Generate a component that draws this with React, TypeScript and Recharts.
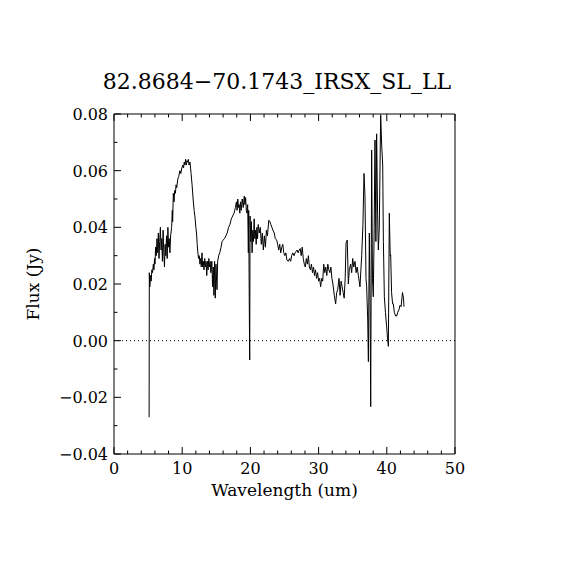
import { LineChart, Line, XAxis, YAxis, ReferenceLine } from 'recharts';

const wavelength = [
  5.15, 5.18, 5.25, 5.35, 5.45, 5.55, 5.65, 5.77, 5.85, 5.95, 6.01, 6.1, 6.2, 6.3, 6.4, 6.5, 6.6, 6.7, 6.8, 6.9,
  7.0, 7.1, 7.2, 7.3, 7.4, 7.5, 7.6, 7.7, 7.8, 7.9, 8.0, 8.1, 8.2, 8.3, 8.45, 8.55, 8.6, 8.7, 8.8, 8.9,
  9.0, 9.1, 9.2, 9.35, 9.5, 9.65, 9.8, 9.95, 10.1, 10.2, 10.3, 10.4, 10.5, 10.6, 10.7, 10.8, 10.9, 11.0, 11.15, 11.3,
  11.45, 11.6, 11.75, 11.9, 12.0, 12.1, 12.2, 12.3, 12.4, 12.5, 12.6, 12.7, 12.8, 12.9, 13.0, 13.1, 13.2, 13.3, 13.4, 13.5,
  13.6, 13.7, 13.8, 13.9, 14.0, 14.1, 14.2, 14.35, 14.45, 14.55, 14.65, 14.75, 14.85, 14.95, 15.1, 15.2, 15.35, 15.5, 15.7, 15.85,
  16.0, 16.2, 16.4, 16.6, 16.8, 17.0, 17.2, 17.4, 17.6, 17.8, 17.95, 18.05, 18.15, 18.25, 18.35, 18.45, 18.55, 18.65, 18.8, 18.95,
  19.1, 19.2, 19.3, 19.4, 19.5, 19.6, 19.7, 19.75, 19.85, 19.9, 19.95, 20.05, 20.15, 20.25, 20.35, 20.45, 20.55, 20.65, 20.75, 20.85,
  20.95, 21.05, 21.15, 21.3, 21.45, 21.6, 21.75, 21.9, 22.05, 22.2, 22.35, 22.5, 22.7, 22.85, 23.0, 23.15, 23.3, 23.5, 23.65, 23.85,
  24.0, 24.15, 24.3, 24.45, 24.6, 24.75, 24.9, 25.05, 25.2, 25.35, 25.55, 25.75, 25.9, 26.05, 26.2, 26.4, 26.55, 26.7, 26.85, 27.0,
  27.15, 27.3, 27.45, 27.6, 27.75, 27.9, 28.05, 28.2, 28.35, 28.5, 28.65, 28.8, 28.95, 29.1, 29.25, 29.4, 29.55, 29.7, 29.85, 30.0,
  30.15, 30.3, 30.45, 30.6, 30.75, 30.9, 31.05, 31.2, 31.35, 31.5, 31.65, 31.8, 31.95, 32.1, 32.3, 32.5, 32.65, 32.8, 33.0, 33.15,
  33.3, 33.45, 33.6, 33.75, 33.9, 34.02, 34.2, 34.36, 34.5, 34.7, 34.85, 35.0, 35.15, 35.34, 35.5, 35.65, 35.83, 36.07, 36.2, 36.32,
  36.5, 36.66, 36.8, 36.95, 37.05, 37.2, 37.3, 37.44, 37.55, 37.64, 37.78, 37.9, 38.02, 38.15, 38.27, 38.4, 38.51, 38.65, 38.76, 38.9,
  39.1, 39.25, 39.4, 39.5, 39.64, 39.8, 39.98, 40.1, 40.23, 40.37, 40.5, 40.57, 40.7, 40.85, 40.96, 41.1, 41.3, 41.45, 41.6, 41.8,
  41.94, 42.1, 42.3, 42.45, 42.52,
];

const flux = [
  -0.027, 0.024, 0.019, 0.023, 0.021, 0.025, 0.024, 0.027, 0.025, 0.029, 0.027, 0.033, 0.030, 0.036, 0.031, 0.038, 0.029, 0.035, 0.040, 0.032,
  0.036, 0.028, 0.039, 0.031, 0.026, 0.034, 0.030, 0.037, 0.029, 0.040, 0.033, 0.036, 0.031, 0.037, 0.040, 0.046, 0.042, 0.052, 0.049, 0.053,
  0.052, 0.055, 0.054, 0.057, 0.058, 0.060, 0.059, 0.061, 0.062, 0.061, 0.063, 0.062, 0.064, 0.062, 0.0635, 0.063, 0.064, 0.062, 0.063, 0.059,
  0.055, 0.050, 0.046, 0.043, 0.040, 0.038, 0.034, 0.031, 0.029, 0.030, 0.027, 0.029, 0.026, 0.031, 0.026, 0.028, 0.025, 0.029, 0.026, 0.028,
  0.023, 0.028, 0.025, 0.029, 0.026, 0.028, 0.024, 0.028, 0.019, 0.026, 0.016, 0.028, 0.015, 0.027, 0.018, 0.028, 0.030, 0.031, 0.033, 0.035,
  0.0355, 0.036, 0.037, 0.038, 0.040, 0.041, 0.043, 0.044, 0.045, 0.047, 0.049, 0.046, 0.050, 0.047, 0.048, 0.045, 0.049, 0.046, 0.050, 0.047,
  0.051, 0.048, 0.0505, 0.046, 0.045, 0.048, 0.031, 0.046, 0.0073, -0.0068, 0.044, 0.035, 0.042, 0.031, 0.039, 0.035, 0.043, 0.036, 0.039, 0.034,
  0.040, 0.036, 0.041, 0.038, 0.040, 0.034, 0.038, 0.032, 0.037, 0.033, 0.039, 0.037, 0.0425, 0.042, 0.041, 0.040, 0.039, 0.038, 0.036, 0.0355,
  0.034, 0.032, 0.034, 0.031, 0.033, 0.034, 0.031, 0.030, 0.031, 0.0285, 0.028, 0.029, 0.028, 0.030, 0.031, 0.030, 0.031, 0.0315, 0.032, 0.031,
  0.032, 0.0325, 0.030, 0.033, 0.029, 0.027, 0.026, 0.029, 0.027, 0.030, 0.026, 0.025, 0.027, 0.024, 0.026, 0.023, 0.025, 0.022, 0.024, 0.021,
  0.022, 0.019, 0.022, 0.021, 0.027, 0.024, 0.026, 0.023, 0.027, 0.025, 0.024, 0.026, 0.022, 0.020, 0.016, 0.013, 0.017, 0.018, 0.022, 0.016,
  0.021, 0.019, 0.017, 0.015, 0.022, 0.0344, 0.0355, 0.020, 0.025, 0.027, 0.024, 0.029, 0.026, 0.028, 0.024, 0.026, 0.023, 0.019, 0.025, 0.030,
  0.041, 0.059, 0.051, 0.022, 0.019, 0.0073, -0.0074, 0.038, 0.012, -0.0233, 0.0673, 0.022, 0.0155, 0.040, 0.0708, 0.035, 0.073, 0.045, 0.032, 0.040,
  0.0797, 0.069, 0.062, 0.035, 0.0155, 0.010, 0.0049, 0.001, -0.002, 0.045, 0.030, 0.0303, 0.017, 0.013, 0.013, 0.010, 0.0087, 0.0087, 0.010, 0.011,
  0.0125, 0.012, 0.017, 0.015, 0.012,
];

const xTicks = [0, 2, 4, 6, 8, 10, 12, 14, 16, 18, 20, 22, 24, 26, 28, 30, 32, 34, 36, 38, 40, 42, 44, 46, 48, 50];
const yTicks = [-0.04, -0.03, -0.02, -0.01, 0, 0.01, 0.02, 0.03, 0.04, 0.05, 0.06, 0.07, 0.08];

const spectrum = wavelength.map((w, i) => ({ w, f: flux[i] }));

const FONT = '"DejaVu Serif", serif';
const MAJOR = 7;
const MINOR = 3.5;

const fmtY = (v: number) => (v < 0 ? '\u2212' : '') + Math.abs(v).toFixed(2);

function XTick(props: any) {
  const { x, y, payload, side } = props;
  const major = Math.round(payload.value) % 10 === 0;
  const len = major ? MAJOR : MINOR;
  const dir = side === 'bottom' ? -1 : 1;
  return (
    <g>
      <line x1={x} x2={x} y1={y} y2={y + dir * len} stroke="#000" strokeWidth={1} />
      {side === 'bottom' && major && (
        <text x={x} y={y + 20} textAnchor="middle" fontFamily={FONT} fontSize={16} fill="#000">
          {payload.value}
        </text>
      )}
    </g>
  );
}

function YTick(props: any) {
  const { x, y, payload, side } = props;
  const major = Math.round(payload.value * 100) % 2 === 0;
  const len = major ? MAJOR : MINOR;
  const dir = side === 'left' ? 1 : -1;
  return (
    <g>
      <line x1={x} x2={x + dir * len} y1={y} y2={y} stroke="#000" strokeWidth={1} />
      {side === 'left' && major && (
        <text x={x - 6} y={y + 6} textAnchor="end" fontFamily={FONT} fontSize={16} fill="#000">
          {fmtY(payload.value)}
        </text>
      )}
    </g>
  );
}

export default function App() {
  return (
    <div style={{ position: 'absolute', left: 0, top: 0, width: 570, height: 570, background: '#fff' }}>
      <div
        style={{
          position: 'absolute',
          left: 0,
          top: 70,
          width: 554,
          textAlign: 'center',
          fontFamily: FONT,
          fontSize: 22,
          lineHeight: '24px',
          color: '#000',
        }}
      >
        82.8684{'\u2212'}70.1743_IRSX_SL_LL
      </div>
      <LineChart width={570} height={570} data={spectrum} margin={{ top: 0, right: 0, left: 0, bottom: 0 }}>
        <XAxis
          xAxisId="b"
          dataKey="w"
          type="number"
          domain={[0, 50]}
          ticks={xTicks}
          interval={0}
          height={116}
          tickSize={0}
          tickMargin={0}
          tickLine={false}
          axisLine={{ stroke: '#000' }}
          tick={<XTick side="bottom" />}
          label={{
            value: 'Wavelength (um)',
            position: 'insideBottom',
            offset: 74,
            style: { fontFamily: FONT, fontSize: 17, fill: '#000' },
          }}
        />
        <XAxis
          xAxisId="t"
          dataKey="w"
          type="number"
          orientation="top"
          domain={[0, 50]}
          ticks={xTicks}
          interval={0}
          height={114}
          tickSize={0}
          tickMargin={0}
          tickLine={false}
          axisLine={{ stroke: '#000' }}
          tick={<XTick side="top" />}
        />
        <YAxis
          yAxisId="l"
          type="number"
          domain={[-0.04, 0.08]}
          ticks={yTicks}
          interval={0}
          width={114}
          tickSize={0}
          tickMargin={0}
          tickLine={false}
          axisLine={{ stroke: '#000' }}
          tick={<YTick side="left" />}
          label={{
            value: 'Flux (Jy)',
            angle: -90,
            position: 'insideLeft',
            offset: 33,
            style: { fontFamily: FONT, fontSize: 17, fill: '#000', textAnchor: 'middle' },
          }}
        />
        <YAxis
          yAxisId="r"
          type="number"
          orientation="right"
          domain={[-0.04, 0.08]}
          ticks={yTicks}
          interval={0}
          width={115}
          tickSize={0}
          tickMargin={0}
          tickLine={false}
          axisLine={{ stroke: '#000' }}
          tick={<YTick side="right" />}
        />
        <ReferenceLine xAxisId="b" yAxisId="l" y={0} stroke="#000" strokeDasharray="1 3" />
        <Line
          xAxisId="b"
          yAxisId="l"
          dataKey="f"
          type="linear"
          stroke="#000"
          strokeWidth={1}
          dot={false}
          isAnimationActive={false}
        />
      </LineChart>
    </div>
  );
}
